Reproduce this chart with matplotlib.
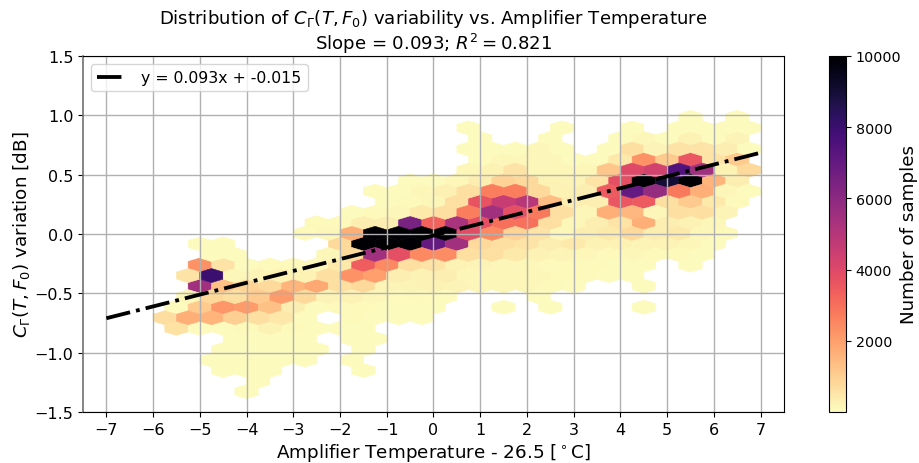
import matplotlib
matplotlib.use('Agg')
import matplotlib.pyplot as plt
import numpy as np

# Hex cells: one row per variation level (bottom to top)
row_var = [-1.328, -1.239, -1.150, -1.061, -0.972, -0.883, -0.795, -0.706, -0.617,
           -0.528, -0.439, -0.350, -0.261, -0.172, -0.083, 0.006, 0.094, 0.183,
           0.272, 0.361, 0.450, 0.539, 0.628, 0.717, 0.805, 0.894, 0.983]
row_first_temp = [-4, -3.75, -4.5, -4.75, -4.5, -4.25, -5.5, -5.75, -5.5,
                  -5.25, -5, -5.25, -5, -4.75, -5, -2.75, -2.5, -1.75,
                  -1, -1.25, -0.5, 0.75, 1, 0.75, 1, 0.75, 5.5]
row_counts = [
    [60],
    [60],
    [60, 60, 60, 0, 0, 0, 60],
    [60, 60, 60, 60, 60, 0, 60],
    [60, 60, 60, 60, 60, 0, 60],
    [60, 60, 60, 60, 0, 60, 60],
    [600, 60, 60, 100, 250, 100, 60, 60, 60],
    [700, 1700, 1600, 1000, 650, 500, 60, 0, 100, 60, 60, 60],
    [60, 1100, 2200, 2100, 1300, 350, 60, 100, 100, 60, 60, 60, 0, 0, 60, 0, 60, 0, 0, 0, 60],
    [150, 800, 650, 1100, 2100, 750, 200, 250, 150, 100, 100, 60, 0, 0, 0, 60],
    [5500, 1300, 900, 750, 1600, 1800, 650, 750, 200, 200, 250, 200, 150, 150, 150, 100, 60, 0, 0, 60],
    [550, 8000, 150, 200, 250, 250, 650, 2300, 2000, 350, 250, 350, 150, 150, 150, 150, 100, 100, 60, 60],
    [2300, 550, 60, 100, 100, 100, 450, 3400, 2500, 650, 550, 250, 200, 150, 150, 100, 100, 100, 60, 60, 0, 60],
    [60, 60, 0, 0, 0, 150, 750, 5500, 3800, 2500, 2400, 650, 650, 450, 250, 200, 150, 100, 150, 100, 100, 60],
    [60, 60, 0, 0, 0, 0, 750, 10000, 10000, 10000, 7000, 5500, 750, 650, 550, 350, 450, 250, 250, 200, 200, 150, 60],
    [100, 150, 1700, 10000, 10000, 10000, 10000, 3900, 2500, 900, 550, 150, 350, 450, 750, 350, 450, 150, 100],
    [100, 100, 350, 350, 6500, 3300, 5300, 3800, 3000, 3000, 650, 150, 350, 550, 1700, 350, 250, 150],
    [60, 100, 150, 450, 650, 2700, 5500, 3800, 2800, 650, 150, 1700, 1500, 150, 650, 650, 200],
    [60, 100, 150, 650, 3700, 4600, 5000, 1400, 350, 350, 3600, 3500, 650, 1100, 450, 100],
    [60, 60, 150, 300, 650, 2700, 2700, 750, 250, 350, 3500, 7000, 5800, 2800, 1700, 150, 60],
    [60, 60, 150, 350, 900, 750, 250, 200, 550, 3800, 10000, 9000, 10000, 1600, 350],
    [150, 250, 550, 150, 150, 150, 1200, 4000, 4300, 7500, 5500, 250, 750],
    [60, 150, 150, 150, 60, 60, 450, 2300, 1100, 3600, 550, 1100],
    [60, 60, 60, 150, 60, 0, 60, 650, 200, 550, 550, 350, 60],
    [60, 0, 0, 60, 0, 0, 60, 150, 60, 250, 60, 200],
    [60, 0, 0, 0, 60, 0, 0, 60, 0, 60, 60, 60, 60],
    [60, 0, 60],
]

line_temp = [-7, 7]
line_var = [-0.71, 0.685]

x_ticks = list(range(-7, 8))
y_ticks = [-1.5, -1.0, -0.5, 0.0, 0.5, 1.0, 1.5]
cbar_ticks = [2000, 4000, 6000, 8000, 10000]

temps, variations, counts = [], [], []
for var, first, cells in zip(row_var, row_first_temp, row_counts):
    for i, c in enumerate(cells):
        if c > 0:
            temps.append(first + 0.5 * i)
            variations.append(var)
            counts.append(c)

fig = plt.figure(figsize=(9.2, 4.64), dpi=100)
ax = fig.add_axes([83 / 920, 1 - 413 / 464, 701 / 920, 356 / 464])
cax = fig.add_axes([829 / 920, 1 - 413 / 464, 17 / 920, 356 / 464])

hb = ax.hexbin(temps, variations, C=counts, reduce_C_function=np.sum,
               gridsize=(28, 13), extent=(-7, 7, row_var[0], row_var[-1]),
               cmap='magma_r', vmin=1, vmax=10000, linewidths=0.4)
ax.plot(line_temp, line_var, 'k-.', linewidth=2.75, label='y = 0.093x + -0.015')

ax.set_xlim(-7.5, 7.5)
ax.set_ylim(-1.5, 1.5)
ax.set_xticks(x_ticks)
ax.set_yticks(y_ticks)
ax.tick_params(labelsize=11.5)
ax.grid(True, linewidth=1.0)
ax.spines['left'].set_color('#707070')
ax.spines['left'].set_linewidth(1.2)
ax.set_xlabel(r'Amplifier Temperature - 26.5 [$^\circ$C]', fontsize=13.2, labelpad=3)
ax.set_ylabel(r'$C_{\Gamma}(T, F_0)$ variation [dB]', fontsize=13.2, labelpad=2)
ax.set_title('Distribution of $C_{\\Gamma}(T, F_0)$ variability vs. Amplifier Temperature\n'
             'Slope = 0.093; $R^2 = 0.821$', fontsize=13.05, pad=5, linespacing=1.12)
ax.legend(loc='upper left', fontsize=11.3, handlelength=1.9, handletextpad=0.9)

cbar = fig.colorbar(hb, cax=cax)
cbar.set_ticks(cbar_ticks)
cbar.ax.tick_params(labelsize=10.3)
cbar.set_label('Number of samples', fontsize=13.2, labelpad=-1)

fig.savefig('out.png', dpi=100)
